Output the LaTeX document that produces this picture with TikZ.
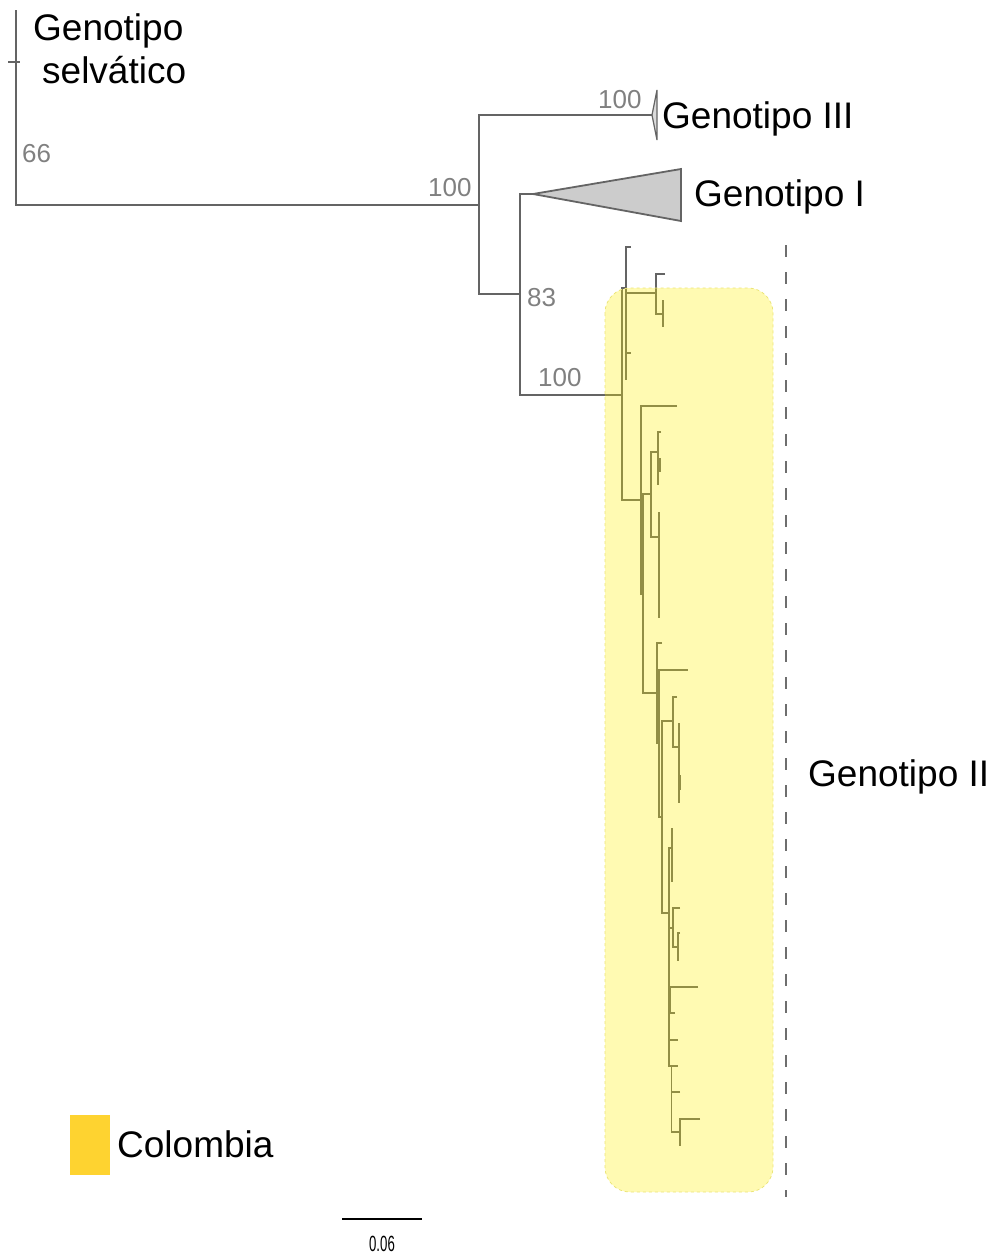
\documentclass[tikz,border=0pt]{standalone}
\usepackage{fontspec}
\setmainfont{Liberation Sans}
\usepackage{graphicx}
\definecolor{branch}{RGB}{100,100,100}
\definecolor{support}{RGB}{128,128,128}
\definecolor{cladefill}{RGB}{255,240,0}
\definecolor{cladeedge}{RGB}{235,228,120}
\definecolor{colombia}{RGB}{254,211,48}
\definecolor{collapsed}{RGB}{204,204,204}
\definecolor{guide}{RGB}{110,110,110}

\begin{document}
\begin{tikzpicture}[x=1pt,y=-1pt,
  br/.style={draw=branch,line width=1.8pt},
  tw/.style={draw=branch,line width=1.5pt},
  lab/.style={anchor=base west,inner sep=0pt,font=\fontsize{37}{44}\selectfont},
  bootstrap/.style={anchor=base west,inner sep=0pt,text=support,font=\fontsize{26}{30}\selectfont}]
\useasboundingbox (0,0) rectangle (992,1256);

% backbone of the tree
\draw[br] (16,10) -- (16,205) -- (479,205);
\draw[br] (8,62) -- (20,62);
\draw[br] (652,115) -- (479,115) -- (479,294) -- (520,294);
\draw[br] (533,194) -- (520,194) -- (520,395) -- (622,395);

% collapsed clades
\draw[br, fill=collapsed] (533,194) -- (681,169) -- (681,221) -- cycle;
\draw[draw=branch, line width=1.2pt, fill=collapsed!70] (652,115) -- (657,90) -- (657,140) -- cycle;

% genotype II subtree
\draw[tw] (626,288) -- (622,288) -- (622,500) -- (641,500);
\draw[tw] (631,247) -- (626,247) -- (626,380);
\draw[tw] (626,293) -- (656,293);
\draw[tw] (626,353) -- (631,353);
\draw[tw] (665,274) -- (656,274) -- (656,314) -- (663,314);
\draw[tw] (663,300) -- (663,327);
\draw[tw] (677,406) -- (641,406) -- (641,594) -- (643,594);
\draw[tw] (651,494) -- (643,494) -- (643,693) -- (657,693);
\draw[tw] (658,452) -- (651,452) -- (651,537) -- (659,537);
\draw[tw] (661,432) -- (658,432) -- (658,485);
\draw[tw] (660,458) -- (660,472);
\draw[tw] (659,512) -- (659,618);
\draw[tw] (662,643) -- (657,643) -- (657,743) -- (659,743);
\draw[tw] (657,670) -- (688,670);
\draw[tw] (659,670) -- (659,817) -- (662,817);
\draw[tw] (673,721) -- (662,721) -- (662,913) -- (669,913);
\draw[tw] (677,697) -- (673,697) -- (673,747) -- (679,747);
\draw[tw] (679,723) -- (679,803);
\draw[tw] (680,775) -- (680,790);
\draw[tw] (672,848) -- (669,848) -- (669,1066) -- (678,1066);
\draw[tw] (672,828) -- (672,882);
\draw[tw] (669,928) -- (673,928);
\draw[tw] (680,908) -- (673,908) -- (673,947) -- (678,947);
\draw[tw] (680,933) -- (678,933) -- (678,961);
\draw[tw] (698,987) -- (670,987) -- (670,1013) -- (675,1013);
\draw[tw] (669,1040) -- (678,1040);
\draw[tw] (680,1092) -- (671.5,1092);
\draw[tw] (671.5,1066) -- (671.5,1132) -- (680,1132);
\draw[tw] (700,1119) -- (680,1119) -- (680,1146);

% Colombia highlight
\fill[cladefill, fill opacity=0.3, rounded corners=25pt] (605,288) rectangle (773,1192);
\draw[cladeedge, dashed, line width=0.8pt, rounded corners=25pt] (605,288) rectangle (773,1192);

% genotype II bracket
\draw[guide, line width=1.3pt, dash pattern=on 12pt off 15pt] (786,245) -- (786,1197);

% clade labels
\node[lab] (wild1) at (33,40) {Genotipo};
\node[lab] (wild2) at (42,83) {selvático};
\node[lab] (g3) at (662,128) {Genotipo III};
\node[lab] (g1) at (694,206) {Genotipo I};
\node[lab] (g2) at (808,786) {Genotipo II};

% bootstrap support
\node[bootstrap] (b66) at (22,162) {66};
\node[bootstrap] (b100a) at (428,196) {100};
\node[bootstrap] (b100b) at (598,108) {100};
\node[bootstrap] (b83) at (527,306) {83};
\node[bootstrap] (b100c) at (538,386) {100};

% legend
\node[fill=colombia, minimum width=40pt, minimum height=60pt, inner sep=0pt, anchor=north west] (colsq) at (70,1115) {};
\node[lab] (col) at (117,1157) {Colombia};

% scale bar
\draw[black, line width=2pt] (342,1219) -- (422,1219);
\node[inner sep=0pt, anchor=base] (scale) at (382,1251) {\fontsize{22}{25}\selectfont\scalebox{0.6}[1]{0.06}};
\end{tikzpicture}
\end{document}
